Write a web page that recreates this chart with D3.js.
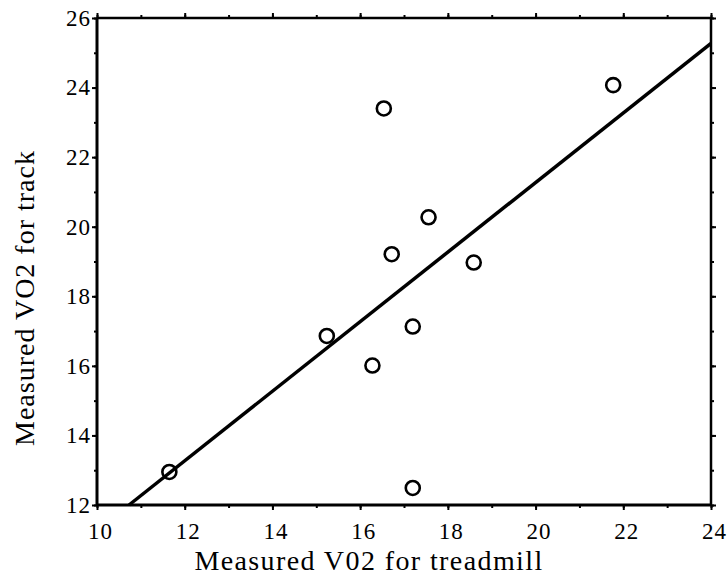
<!DOCTYPE html>
<html><head><meta charset="utf-8">
<script src="https://cdn.jsdelivr.net/npm/d3@7"></script>
<style>body{margin:0;background:#fff}svg{display:block}</style>
</head><body>
<script>
const treadmill = [11.65, 15.24, 16.28, 17.20, 17.20, 16.54, 17.56, 16.72, 18.59, 21.77];
const track     = [12.95, 16.86, 16.01, 17.13, 12.49, 23.40, 20.27, 19.21, 18.97, 24.07];
const fitSlope = 1.0;
const fitIntercept = 1.27;
const xTicks = [10, 12, 14, 16, 18, 20, 22, 24];
const yTicks = [12, 14, 16, 18, 20, 22, 24, 26];
const xTitle = "Measured V02 for treadmill";
const yTitle = "Measured VO2 for track";

const W = 727, H = 577;
const L = 97, R = 711, T = 18, B = 505;
const svg = d3.select("body").append("svg").attr("width", W).attr("height", H);
const x = d3.scaleLinear().domain([10, 24]).range([L, R]);
const y = d3.scaleLinear().domain([12, 26]).range([B, T]);
const font = "'Liberation Serif', 'Times New Roman', serif";

const minorX = d3.range(10, 24.01, 1), minorY = d3.range(12, 26.01, 1);

function styleAxis(g) {
  g.select(".domain").remove();
  g.selectAll("line").attr("stroke", "#000").attr("stroke-width", 2);
}
// minor ticks
svg.append("g").attr("transform", `translate(0,${B})`).call(d3.axisBottom(x).tickValues(minorX).tickSize(3).tickFormat("")).call(styleAxis);
svg.append("g").attr("transform", `translate(0,${T})`).call(d3.axisTop(x).tickValues(minorX).tickSize(3).tickFormat("")).call(styleAxis);
svg.append("g").attr("transform", `translate(${L},0)`).call(d3.axisLeft(y).tickValues(minorY).tickSize(3).tickFormat("")).call(styleAxis);
svg.append("g").attr("transform", `translate(${R},0)`).call(d3.axisRight(y).tickValues(minorY).tickSize(3).tickFormat("")).call(styleAxis);
// major ticks with labels
const gx = svg.append("g").attr("transform", `translate(0,${B})`).call(d3.axisBottom(x).tickValues(xTicks).tickSize(5).tickPadding(13).tickFormat(d3.format("d"))).call(styleAxis);
gx.selectAll("text").attr("font-family", font).attr("font-size", 23).attr("letter-spacing", 1).attr("fill", "#000").attr("dx", 3);
const gy = svg.append("g").attr("transform", `translate(${L},0)`).call(d3.axisLeft(y).tickValues(yTicks).tickSize(5).tickPadding(0).tickFormat(d3.format("d"))).call(styleAxis);
gy.selectAll("text").attr("font-family", font).attr("font-size", 23).attr("letter-spacing", 1).attr("fill", "#000").attr("dx", -1);
svg.append("g").attr("transform", `translate(0,${T})`).call(d3.axisTop(x).tickValues(xTicks).tickSize(5).tickFormat("")).call(styleAxis);
svg.append("g").attr("transform", `translate(${R},0)`).call(d3.axisRight(y).tickValues(yTicks).tickSize(5).tickFormat("")).call(styleAxis);

// frame
svg.append("line").attr("x1", L).attr("x2", L).attr("y1", T).attr("y2", B).attr("stroke", "#000").attr("stroke-width", 3);
svg.append("line").attr("x1", L).attr("x2", R).attr("y1", B).attr("y2", B).attr("stroke", "#000").attr("stroke-width", 3);
svg.append("line").attr("x1", L).attr("x2", R).attr("y1", T).attr("y2", T).attr("stroke", "#000").attr("stroke-width", 2.5);
svg.append("line").attr("x1", R).attr("x2", R).attr("y1", T).attr("y2", B).attr("stroke", "#000").attr("stroke-width", 2.5);

// fit line, clipped to plot
const x0 = Math.max(10, (12 - fitIntercept) / fitSlope);
const x1 = Math.min(24, (26 - fitIntercept) / fitSlope);
svg.append("line")
  .attr("x1", x(x0)).attr("y1", y(fitSlope * x0 + fitIntercept))
  .attr("x2", x(x1)).attr("y2", y(fitSlope * x1 + fitIntercept))
  .attr("stroke", "#000").attr("stroke-width", 3.5);

// points
svg.append("g").selectAll("circle").data(treadmill.map((d, i) => [d, track[i]])).join("circle")
  .attr("cx", d => x(d[0])).attr("cy", d => y(d[1])).attr("r", 7)
  .attr("fill", "none").attr("stroke", "#000").attr("stroke-width", 2.6);

// titles
svg.append("text").attr("x", 369).attr("y", 570).attr("text-anchor", "middle")
  .attr("font-family", font).attr("font-size", 28).attr("letter-spacing", 1.4).attr("fill", "#000").text(xTitle);
svg.append("text").attr("transform", "translate(34,298) rotate(-90)").attr("text-anchor", "middle")
  .attr("font-family", font).attr("font-size", 28).attr("letter-spacing", 1).attr("fill", "#000").text(yTitle);
</script>
</body></html>
